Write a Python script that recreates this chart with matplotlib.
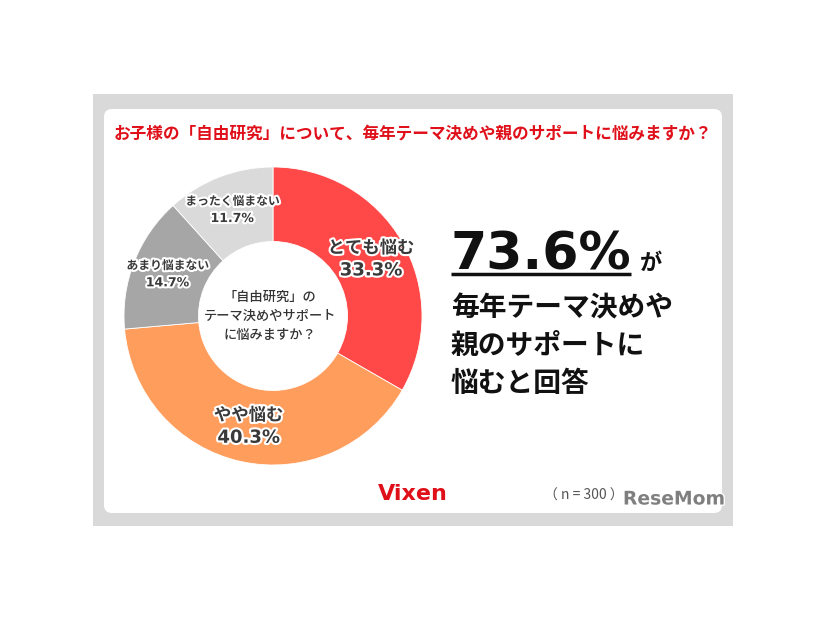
import matplotlib
matplotlib.use("Agg")
import matplotlib.pyplot as plt
import numpy as np
from matplotlib.patches import Rectangle, FancyBboxPatch
import matplotlib.patheffects as pe

plt.rcParams['font.family'] = ['Noto Sans CJK JP', 'DejaVu Sans']

# ---- data ----
categories = ["とても悩む", "やや悩む", "あまり悩まない", "まったく悩まない"]
values = [33.3, 40.3, 14.7, 11.7]
colors = ["#ff4949", "#ff9d5c", "#a6a6a6", "#dadada"]
big_label = [True, True, False, False]
title = "お子様の「自由研究」について、毎年テーマ決めや親のサポートに悩みますか？"
center_text = "「自由研究」の\nテーマ決めやサポート\nに悩みますか？"
headline_pct = "73.6%"
headline_lines = ["毎年テーマ決めや", "親のサポートに", "悩むと回答"]
note = "（ n = 300 ）"

W, H = 826, 620
fig = plt.figure(figsize=(W / 100, H / 100), dpi=100)
fig.patch.set_facecolor("white")

# background axes in pixel coordinates
bg = fig.add_axes([0, 0, 1, 1])
bg.set_xlim(0, W)
bg.set_ylim(H, 0)
bg.axis("off")
bg.add_patch(Rectangle((93, 94), 640, 432, facecolor="#d9d9d9", edgecolor="none"))
bg.add_patch(FancyBboxPatch((104, 109), 618, 404, boxstyle="round,pad=0,rounding_size=8",
                            facecolor="white", edgecolor="none"))

# title
bg.text(413, 133, title, color="#e0101a", fontsize=12, fontweight="bold",
        ha="center", va="center")

# pie
cx, cy, R = 273, 316, 149
pax = fig.add_axes([(cx - R) / W, (H - cy - R) / H, 2 * R / W, 2 * R / H])
wedges, _ = pax.pie(values, colors=colors, startangle=90, counterclock=False,
                    radius=1.0, wedgeprops=dict(width=0.5, edgecolor="white", linewidth=0.6))
pax.set_xlim(-1, 1)
pax.set_ylim(-1, 1)
pax.set_aspect("equal")
pax.axis("off")

stroke = [pe.withStroke(linewidth=3, foreground="white")]
for w, cat, v, big in zip(wedges, categories, values, big_label):
    ang = np.deg2rad((w.theta1 + w.theta2) / 2)
    r = 0.76
    x, y = r * np.cos(ang), r * np.sin(ang)
    if big:
        pax.text(x, y + 0.075, cat, ha="center", va="center", fontsize=12.5,
                 fontweight="bold", color="#3a3a3a", path_effects=stroke)
        pax.text(x, y - 0.075, f"{v:.1f}%", ha="center", va="center", fontsize=13,
                 fontweight="bold", color="#3a3a3a", path_effects=stroke,
                 family=["DejaVu Sans"])
    else:
        pax.text(x, y + 0.06, cat, ha="center", va="center", fontsize=8.5,
                 fontweight="bold", color="#3a3a3a", path_effects=stroke)
        pax.text(x, y - 0.055, f"{v:.1f}%", ha="center", va="center", fontsize=9,
                 fontweight="bold", color="#3a3a3a", path_effects=stroke,
                 family=["DejaVu Sans"])

pax.text(-0.02, 0.0, center_text, ha="center", va="center", fontsize=9.5,
         fontweight="medium", color="#333333", linespacing=1.45)

# headline on the right
bg.text(450, 270, headline_pct, fontsize=37.5, fontweight="bold", color="#111111",
        ha="left", va="baseline", family=["DejaVu Sans"])
bg.plot([451, 631], [274, 274], color="#111111", linewidth=2.5, solid_capstyle="butt")
bg.text(640, 270, "が", fontsize=16, fontweight="bold", color="#111111",
        ha="left", va="baseline")
for i, line in enumerate(headline_lines):
    bg.text(451, 308 + i * 38, line, fontsize=20, fontweight="bold", color="#111111",
            ha="left", va="center")

# footer
bg.text(413, 494, "Vixen", fontsize=16, fontweight="bold", color="#e0101a",
        ha="center", va="center", family=["DejaVu Sans"])
bg.text(544, 496, note, fontsize=10, color="#555555", ha="left", va="center", zorder=2)
bg.text(674, 499, "ReseMom", fontsize=13.5, fontweight="bold", color="#7a7a7a",
        ha="center", va="center", family=["DejaVu Sans"], alpha=0.95, zorder=3,
        path_effects=[pe.withStroke(linewidth=2, foreground="white")])

fig.savefig("out.png", dpi=100, facecolor="white")
